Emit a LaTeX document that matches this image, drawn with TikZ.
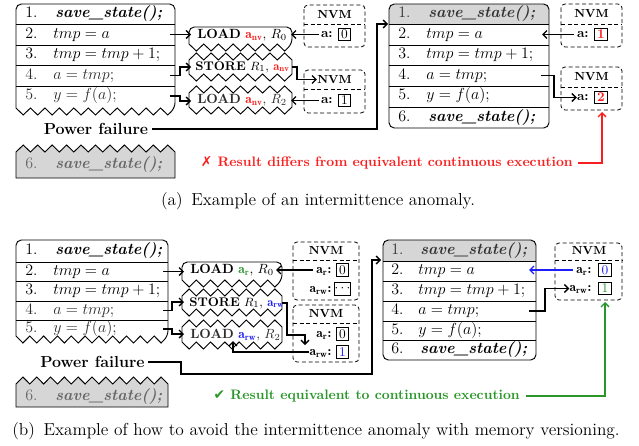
\documentclass[tikz,border=0pt]{standalone}
\usepackage{fontspec}
\newfontfamily\dejavu{DejaVu Sans}
\usetikzlibrary{arrows.meta}
\definecolor{errred}{RGB}{250,30,30}
\definecolor{okgreen}{RGB}{40,150,40}
\definecolor{verblue}{RGB}{30,30,250}
\definecolor{rowgray}{RGB}{214,214,214}
\newcommand\savestate{\textbf{\textit{save\_state();}}}
\begin{document}
\begin{tikzpicture}[x=0.75pt,y=-0.75pt,
  every node/.style={inner sep=0pt},
  blk/.style={draw, line width=0.7pt},
  num/.style={anchor=west, font=\fontsize{12}{14}\selectfont, text height=8.5pt, text depth=3pt},
  code/.style={anchor=west, font=\fontsize{12}{14}\selectfont, text height=8.5pt, text depth=3pt},
  faded/.style={text=black!82},
  instr/.style={anchor=west, font=\fontsize{10}{12}\selectfont, text height=7pt, text depth=2.5pt},
  instrs/.style={anchor=west, font=\fontsize{9.4}{11}\selectfont, text height=7pt, text depth=2.5pt},
  nvmbox/.style={draw, dash pattern=on 3pt off 2pt, rounded corners=3pt, line width=0.6pt},
  nvmsep/.style={draw, dash pattern=on 3pt off 2pt, line width=0.6pt},
  nvmhead/.style={font=\fontsize{8.8}{10}\selectfont\bfseries},
  nvmlab/.style={anchor=east, font=\fontsize{10}{12}\selectfont\bfseries, text height=7pt, text depth=2.5pt},
  val/.style={draw, line width=0.6pt, minimum size=9.5pt, font=\fontsize{10}{12}\selectfont},
  conn/.style={line width=1pt, -{Straight Barb[length=3pt,width=6pt]}},
  failtxt/.style={font=\fontsize{12}{14}\selectfont\bfseries},
  note/.style={anchor=east, font=\fontsize{10.3}{12}\selectfont\bfseries},
  captxt/.style={font=\fontsize{13}{15}\selectfont}
]
\useasboundingbox (0,0) rectangle (639,446);

% ================= (a) =================
% interrupted execution: lines 1-5
\draw[blk] (16,108) [rounded corners=4] -- (16,4) -- (175,4) -- (175,108) [sharp corners]
  \foreach \i in {1,...,22}{ -- ({175-\i*159/22},{108+7*mod(\i,2)}) };
\foreach \y in {24,45,65,86} \draw[blk] (16,\y) -- (175,\y);
\node[num] (la1n) at (25,14) {1.};   \node[code] (la1) at (55,14) {\savestate};
\node[num] (la2n) at (25,34.5) {2.}; \node[code] (la2) at (53,34.5) {$tmp = a$};
\node[num] (la3n) at (25,55) {3.};   \node[code] (la3) at (53,55) {$tmp = tmp + 1;$};
\node[num,faded] (la4n) at (25,75.5) {4.}; \node[code,faded] (la4) at (53,75.5) {$a = tmp;$};
\node[num,faded] (la5n) at (25,96) {5.};   \node[code,faded] (la5) at (53,96) {$y = f(a);$};

\node[failtxt] (pfa) at (96,129) {Power failure};

% skipped checkpoint
\fill[rowgray] (16,178) -- (16,152) \foreach \i in {1,...,22}{ -- ({16+\i*159/22},{152-7*mod(\i,2)}) } -- (175,178) -- cycle;
\draw[blk] (16,178) -- (16,152) \foreach \i in {1,...,22}{ -- ({16+\i*159/22},{152-7*mod(\i,2)}) } -- (175,178) -- cycle;
\node[num,text=black!60] (la6n) at (25,165) {6.}; \node[code,text=black!60] (la6) at (55,165) {\savestate};

% memory instructions
\draw[blk] (189,44) [rounded corners=4] -- (189,27) -- (292,27) -- (292,44) [sharp corners]
  \foreach \i in {1,...,14}{ -- ({292-\i*103/14},{44+7*mod(\i,2)}) };
\draw[blk] (189,74) -- (189,60) \foreach \i in {1,...,14}{ -- ({189+\i*103/14},{60-7*mod(\i,2)}) }
  -- (292,74) \foreach \i in {1,...,14}{ -- ({292-\i*103/14},{74+7*mod(\i,2)}) } -- cycle;
\draw[blk] (189,107) -- (189,93) \foreach \i in {1,...,14}{ -- ({189+\i*103/14},{93-7*mod(\i,2)}) }
  -- (292,107) \foreach \i in {1,...,14}{ -- ({292-\i*103/14},{107+7*mod(\i,2)}) } -- cycle;
\node[instr] (ia1) at (197,35) {\textbf{LOAD} \textcolor{errred}{$\mathbf{a_{nv}}$}, $R_0$};
\node[instrs] (ia2) at (195,67) {\textbf{STORE} $R_1$, \textcolor{errred}{$\mathbf{a_{nv}}$}};
\node[instr,faded] (ia3) at (197,100) {\textbf{LOAD} \textcolor{errred}{$\mathbf{a_{nv}}$}, $R_2$};

% NVM before / after the store
\draw[nvmbox] (304,5) rectangle (365,47); \draw[nvmsep] (304,24) -- (365,24);
\node[nvmhead] (na1h) at (334.5,14.5) {NVM};
\node[nvmlab] (na1l) at (333,34.5) {a:}; \node[val] (na1v) at (344.5,34.5) {0};
\draw[nvmbox] (304,70) rectangle (365,113); \draw[nvmsep] (304,89) -- (365,89);
\node[nvmhead] (na2h) at (334.5,79.5) {NVM};
\node[nvmlab] (na2l) at (333,100.5) {a:}; \node[val] (na2v) at (344.5,100.5) {1};

% re-execution after reboot
\begin{scope}
  \clip[rounded corners=4] (389,4) rectangle (549,128);
  \fill[rowgray] (389,4) rectangle (549,24);
\end{scope}
\draw[blk,rounded corners=4] (389,4) rectangle (549,128);
\foreach \y in {24,45,65,86,107} \draw[blk] (389,\y) -- (549,\y);
\node[num,text=black!80] (ra1n) at (398,14) {1.}; \node[code,text=black!80] (ra1) at (428,14) {\savestate};
\node[num] (ra2n) at (398,34.5) {2.}; \node[code] (ra2) at (426,34.5) {$tmp = a$};
\node[num] (ra3n) at (398,55) {3.};   \node[code] (ra3) at (426,55) {$tmp = tmp + 1;$};
\node[num] (ra4n) at (398,75.5) {4.}; \node[code] (ra4) at (426,75.5) {$a = tmp;$};
\node[num] (ra5n) at (398,96) {5.};   \node[code] (ra5) at (426,96) {$y = f(a);$};
\node[num] (ra6n) at (398,117.5) {6.}; \node[code] (ra6) at (428,117.5) {\savestate};

\draw[nvmbox] (561,4) rectangle (622,47); \draw[nvmsep] (561,24) -- (622,24);
\node[nvmhead] (na3h) at (591.5,14) {NVM};
\node[nvmlab] (na3l) at (589,34.5) {a:}; \node[val,text=errred] (na3v) at (601,34.5) {\textbf{1}};
\draw[nvmbox] (561,67) rectangle (622,110); \draw[nvmsep] (561,87) -- (622,87);
\node[nvmhead] (na4h) at (591.5,77) {NVM};
\node[nvmlab] (na4l) at (589,97.5) {a:}; \node[val,text=errred] (na4v) at (601,97.5) {\textbf{2}};

\node[note,text=errred] (erra) at (573,163) {{\dejavu\fontsize{10.3}{12}\selectfont ✗} Result differs from equivalent continuous execution};

% connectors (a)
\draw[conn] (170,34.5) -- (191,34.5);
\draw[conn] (170,75.5) -- (180,75.5) -- (180,67) -- (191,67);
\draw[conn] (170,96) -- (180,96) -- (180,101) -- (191,101);
\draw[conn] (na1l.west) ++(-2,0) -- (291,34.5);
\draw[conn] (292,67) -- (297,67) -- (297,79.5) -- (na2h.west);
\draw[conn] (na2l.west) ++(-2,0) -- (291,100.5);
\draw[conn] (pfa.east) ++(4,0) -- (377,129) -- (377,24) -- (388,24);
\draw[conn] (na3l.west) ++(-3,0) -- (542,34.5);
\draw[conn] (541,75.5) -- (554,75.5) -- (554,97.5) -- (na4l.west);
\draw[conn,draw=errred] (erra.east) ++(5,0) -- (602,163) -- (602,112);

\node[captxt] (capa) at (318,201) {(a)\enspace Example of an intermittence anomaly.};

% ================= (b) =================
\draw[blk] (16,336) [rounded corners=4] -- (16,240) -- (168,240) -- (168,336) [sharp corners]
  \foreach \i in {1,...,22}{ -- ({168-\i*152/22},{336+7*mod(\i,2)}) };
\foreach \y in {262,281,301,320} \draw[blk] (16,\y) -- (168,\y);
\node[num] (lb1n) at (25,251) {1.};   \node[code] (lb1) at (55,251) {\savestate};
\node[num] (lb2n) at (25,271.5) {2.}; \node[code] (lb2) at (53,271.5) {$tmp = a$};
\node[num] (lb3n) at (25,291) {3.};   \node[code] (lb3) at (53,291) {$tmp = tmp + 1;$};
\node[num,faded] (lb4n) at (25,310.5) {4.}; \node[code,faded] (lb4) at (53,310.5) {$a = tmp;$};
\node[num,faded] (lb5n) at (25,329) {5.};   \node[code,faded] (lb5) at (53,329) {$y = f(a);$};

\node[failtxt] (pfb) at (92.5,362) {Power failure};

\fill[rowgray] (16,407) -- (16,384) \foreach \i in {1,...,22}{ -- ({16+\i*152/22},{384-7*mod(\i,2)}) } -- (168,407) -- cycle;
\draw[blk] (16,407) -- (16,384) \foreach \i in {1,...,22}{ -- ({16+\i*152/22},{384-7*mod(\i,2)}) } -- (168,407) -- cycle;
\node[num,text=black!60] (lb6n) at (25,396.5) {6.}; \node[code,text=black!60] (lb6) at (55,396.5) {\savestate};

\draw[blk] (182,280) [rounded corners=4] -- (182,262) -- (282,262) -- (282,280) [sharp corners]
  \foreach \i in {1,...,14}{ -- ({282-\i*100/14},{280+7*mod(\i,2)}) };
\draw[blk] (182,309) -- (182,296) \foreach \i in {1,...,14}{ -- ({182+\i*100/14},{296-7*mod(\i,2)}) }
  -- (282,309) \foreach \i in {1,...,14}{ -- ({282-\i*100/14},{309+7*mod(\i,2)}) } -- cycle;
\draw[blk] (182,342) -- (182,327) \foreach \i in {1,...,14}{ -- ({182+\i*100/14},{327-7*mod(\i,2)}) }
  -- (282,342) \foreach \i in {1,...,14}{ -- ({282-\i*100/14},{342+7*mod(\i,2)}) } -- cycle;
\node[instr] (ib1) at (190,270) {\textbf{LOAD} \textcolor{okgreen}{$\mathbf{a_{r}}$}, $R_0$};
\node[instrs] (ib2) at (189,303) {\textbf{STORE} $R_1$, \textcolor{verblue}{$\mathbf{a_{rw}}$}};
\node[instr,faded] (ib3) at (190,335) {\textbf{LOAD} \textcolor{verblue}{$\mathbf{a_{rw}}$}, $R_2$};

\draw[nvmbox] (293,242) rectangle (359,300); \draw[nvmsep] (293,260) -- (359,260);
\node[nvmhead] (nb1h) at (326,251) {NVM};
\node[nvmlab] (nb1r) at (332,270) {$\mathbf{a_{r}}$:};  \node[val] (nb1rv) at (342.5,270) {0};
\node[nvmlab] (nb1w) at (332,289) {$\mathbf{a_{rw}}$:}; \node[val] (nb1wv) at (342.5,289) {$\cdots$};
\draw[nvmbox] (293,305) rectangle (359,362); \draw[nvmsep] (293,323) -- (359,323);
\node[nvmhead] (nb2h) at (326,314) {NVM};
\node[nvmlab] (nb2r) at (332,334) {$\mathbf{a_{r}}$:};  \node[val] (nb2rv) at (342.5,334) {0};
\node[nvmlab] (nb2w) at (332,352) {$\mathbf{a_{rw}}$:}; \node[val,text=verblue] (nb2wv) at (342.5,352) {1};

\begin{scope}
  \clip[rounded corners=4] (383,240) rectangle (536,360);
  \fill[rowgray] (383,240) rectangle (536,261);
\end{scope}
\draw[blk,rounded corners=4] (383,240) rectangle (536,360);
\foreach \y in {261,281,301,321,340} \draw[blk] (383,\y) -- (536,\y);
\node[num,text=black!80] (rb1n) at (391,250.5) {1.}; \node[code,text=black!80] (rb1) at (420,250.5) {\savestate};
\node[num] (rb2n) at (391,271) {2.}; \node[code] (rb2) at (418,271) {$tmp = a$};
\node[num] (rb3n) at (391,291) {3.}; \node[code] (rb3) at (418,291) {$tmp = tmp + 1;$};
\node[num] (rb4n) at (391,311) {4.}; \node[code] (rb4) at (418,311) {$a = tmp;$};
\node[num] (rb5n) at (391,330.5) {5.}; \node[code] (rb5) at (418,330.5) {$y = f(a);$};
\node[num] (rb6n) at (391,350) {6.}; \node[code] (rb6) at (420,350) {\savestate};

\draw[nvmbox] (555,243) rectangle (622,300); \draw[nvmsep] (555,260) -- (622,260);
\node[nvmhead] (nb3h) at (589,251) {NVM};
\node[nvmlab] (nb3r) at (592,270) {$\mathbf{a_{r}}$:};  \node[val,text=verblue] (nb3rv) at (605,270) {0};
\node[nvmlab] (nb3w) at (592,288.5) {$\mathbf{a_{rw}}$:}; \node[val,text=okgreen] (nb3wv) at (605,288.5) {1};

\node[note,text=okgreen] (okb) at (520,396) {{\dejavu\fontsize{10.3}{12}\selectfont ✔} Result equivalent to continuous execution};

% connectors (b)
\draw[conn] (163,271.5) -- (184,271.5);
\draw[conn] (163,310.5) -- (172,310.5) -- (172,302) -- (184,302);
\draw[conn] (163,329) -- (172,329) -- (172,334) -- (184,334);
\draw[conn] (nb1r.west) ++(-3,0) -- (276,270);
\draw[conn] (282,303) -- (287,303) -- (287,335) -- (305,335) -- (305,345);
\draw[conn] (nb2w.west) -- (233,352) -- (233,341);
\draw[conn] (pfb.east) ++(3,0) -- (181,362) -- (181,374) -- (372,374) -- (372,260) -- (381,260);
\draw[conn,draw=verblue] (nb3r.west) ++(-3,0) -- (529,270);
\draw[conn] (529,311) -- (545,311) -- (545,288.5) -- (nb3w.west);
\draw[conn,draw=okgreen] (okb.east) ++(6,0) -- (605,396) -- (605,302);

\node[captxt] (capb) at (316,431) {(b)\enspace Example of how to avoid the intermittence anomaly with memory versioning.};
\end{tikzpicture}
\end{document}
